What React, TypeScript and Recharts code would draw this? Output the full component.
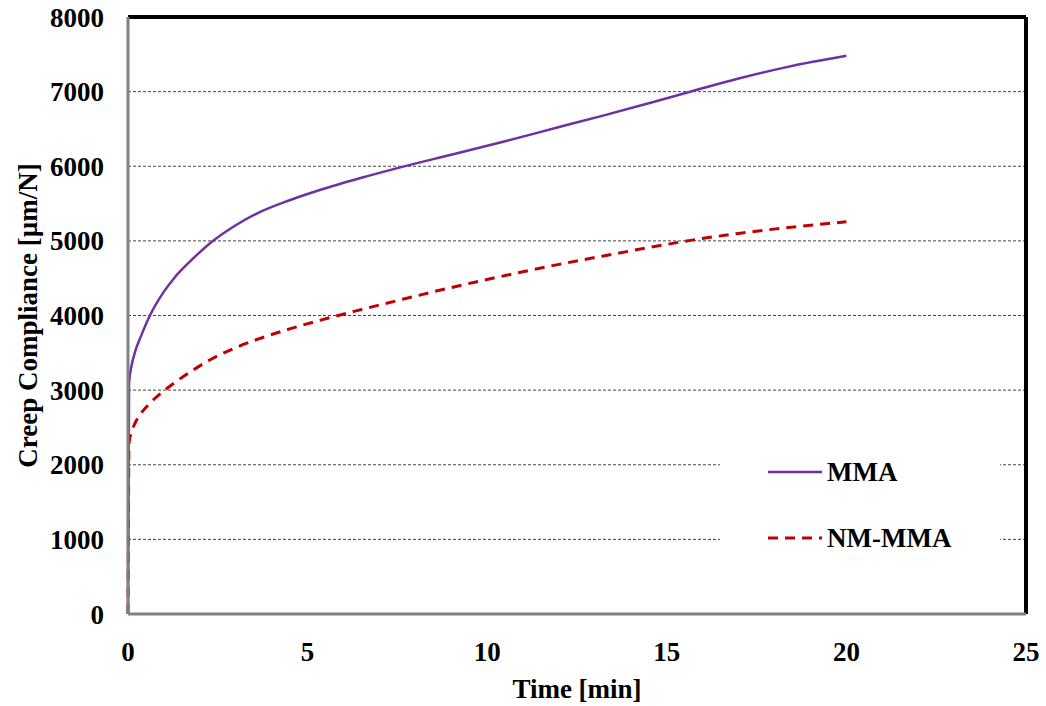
import React from "react";
import {
  LineChart,
  Line,
  XAxis,
  YAxis,
  CartesianGrid,
  ReferenceLine,
  Legend,
  Label,
} from "recharts";

// Time [min]
const times = [0, 0.03, 0.1, 0.2, 0.35, 0.6, 1, 1.3, 1.75, 2.3, 3, 3.6, 4.5, 5.3, 6.5, 7.5, 9, 10.5, 12, 13.2, 14.5, 15.7, 17, 18.4, 20];
// Creep compliance [µm/N]
const mma = [0, 3100, 3330, 3520, 3710, 3990, 4320, 4510, 4735, 4975, 5210, 5370, 5545, 5675, 5845, 5975, 6155, 6335, 6525, 6675, 6845, 7005, 7175, 7335, 7480];
const nmMma = [0, 2300, 2440, 2560, 2680, 2820, 2990, 3100, 3250, 3410, 3570, 3680, 3820, 3930, 4080, 4200, 4375, 4535, 4685, 4795, 4910, 5010, 5100, 5180, 5255];

const xTicks = [0, 5, 10, 15, 20, 25];
const yTicks = [0, 1000, 2000, 3000, 4000, 5000, 6000, 7000, 8000];

const seriesNames = ["MMA", "NM-MMA"];

const data = times.map((t, i) => ({ t, mma: mma[i], nm: nmMma[i] }));

const FONT = "'Liberation Serif', 'Times New Roman', serif";
const FS = 27;

const LegendContent = (props: any) => {
  const payload = props.payload || [];
  return (
    <div style={{ background: "#fff", padding: "10px 0 12px 48px", width: 232 }}>
      {payload.map((p: any, i: number) => (
        <div key={i} style={{ display: "flex", alignItems: "center", height: 34, marginTop: i === 0 ? 0 : 32 }}>
          <svg width={56} height={10} style={{ display: "block" }}>
            <line
              x1={0}
              y1={5}
              x2={54}
              y2={5}
              stroke={p.color}
              strokeWidth={p.payload?.strokeWidth || 3}
              strokeDasharray={p.payload?.strokeDasharray}
            />
          </svg>
          <span
            style={{
              fontFamily: FONT,
              fontWeight: "bold",
              fontSize: FS,
              color: "#000",
              marginLeft: 3,
              lineHeight: "34px",
            }}
          >
            {p.value}
          </span>
        </div>
      ))}
    </div>
  );
};

const YLabel = (props: any) => {
  const vb = props.viewBox || { x: 0, y: 0, width: 0, height: 0 };
  const cx = vb.x + 28;
  const cy = vb.y + vb.height / 2;
  return (
    <text
      x={cx}
      y={cy}
      transform={`rotate(-90, ${cx}, ${cy})`}
      textAnchor="middle"
      dominantBaseline="central"
      fontFamily={FONT}
      fontWeight="bold"
      fontSize={FS}
      fill="#000"
    >
      {"Creep Compliance  [\u00b5m/N]"}
    </text>
  );
};

export default function App() {
  return (
    <div style={{ position: "fixed", left: 0, top: 0, width: 1046, height: 706, background: "#fff" }}>
      <LineChart
        width={1046}
        height={706}
        data={data}
        margin={{ top: 17, right: 20, bottom: 0, left: 0 }}
      >
        <CartesianGrid
          horizontal={true}
          vertical={false}
          stroke="#444"
          strokeDasharray="3 2"
          strokeWidth={1}
        />
        <XAxis
          dataKey="t"
          type="number"
          domain={[0, 25]}
          ticks={xTicks}
          height={92}
          tickLine={false}
          tickSize={0}
          tickMargin={28}
          axisLine={{ stroke: "#808080", strokeWidth: 3 }}
          tick={{ fontFamily: FONT, fontWeight: "bold", fontSize: FS, fill: "#000" }}
          interval={0}
        >
          <Label
            value="Time  [min]"
            position="insideBottom"
            offset={8}
            style={{ fontFamily: FONT, fontWeight: "bold", fontSize: FS, fill: "#000" }}
          />
        </XAxis>
        <YAxis
          type="number"
          domain={[0, 8000]}
          ticks={yTicks}
          width={128}
          tickLine={false}
          tickSize={0}
          tickMargin={24}
          axisLine={{ stroke: "#808080", strokeWidth: 3 }}
          tick={{ fontFamily: FONT, fontWeight: "bold", fontSize: FS, fill: "#000" }}
          interval={0}
        >
          <Label content={<YLabel />} />
        </YAxis>
        <ReferenceLine y={8000} stroke="#000" strokeWidth={4} />
        <ReferenceLine x={25} stroke="#000" strokeWidth={4} />
        <Line
          type="monotone"
          dataKey="mma"
          name={seriesNames[0]}
          stroke="#7030A0"
          strokeWidth={2.5}
          dot={false}
          isAnimationActive={false}
        />
        <Line
          type="monotone"
          dataKey="nm"
          name={seriesNames[1]}
          stroke="#C00000"
          strokeWidth={3}
          strokeDasharray="10 7"
          dot={false}
          isAnimationActive={false}
        />
        <Legend
          layout="vertical"
          align="center"
          verticalAlign="middle"
          content={<LegendContent />}
          wrapperStyle={{ left: 720, top: 445, width: 280, right: "auto", bottom: "auto" }}
        />
      </LineChart>
    </div>
  );
}
